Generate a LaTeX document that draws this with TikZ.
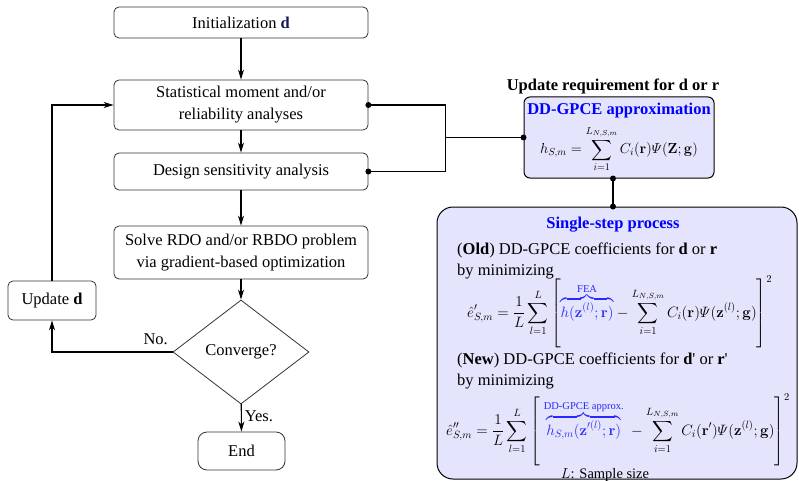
\RequirePackage{fix-cm}
\documentclass[tikz,border=0pt]{standalone}
\usepackage{amsmath}
\usepackage[no-math]{fontspec}
\setmainfont{Liberation Serif}
\usetikzlibrary{shapes.geometric,arrows.meta,calc}
\definecolor{boxfill}{RGB}{228,228,252}
\definecolor{navyd}{RGB}{20,20,80}
\definecolor{fblue}{RGB}{40,40,255}
\newcommand{\tallbr}{\vphantom{\rule[-32pt]{0pt}{71pt}}}
\begin{document}
\begin{tikzpicture}[x=1pt,y=-1pt,
  txt/.style={font=\fontsize{16.5}{22}\selectfont},
  box/.style={txt, draw=black!80, line width=0.8pt, rounded corners=5pt, minimum width=254pt, align=center, inner sep=0pt},
  conn/.style={line width=1.1pt, -{Stealth[length=10pt,width=6pt,inset=3pt]}},
  wire/.style={line width=1.1pt},
  mth/.style={font=\fontsize{14.5}{16}\selectfont, inner sep=0pt},
  bmth/.style={font=\fontsize{15}{17}\selectfont, inner sep=0pt, anchor=base west},
  panel/.style={draw=black, line width=1pt, fill=boxfill}
]
\useasboundingbox (0,0) rectangle (799,481);

% left flow
\node[box, minimum height=31pt] (init) at (241,22.5) {Initialization \textbf{\color{navyd}d}};
\node[box, minimum height=50pt] (stat) at (241,105) {Statistical moment and/or\\reliability analyses};
\node[box, minimum height=37pt] (sens) at (241,171.5) {Design sensitivity analysis};
\node[box, minimum height=53pt] (solve) at (241,252.5) {Solve RDO and/or RBDO problem\\via gradient-based optimization};
\node[txt, draw=black!80, line width=0.8pt, diamond, minimum width=136pt, minimum height=104pt, inner sep=0pt] (conv) at (241,352) {Converge?};
\node[box, minimum width=87pt, minimum height=38pt, rounded corners=9pt] (end) at (241.5,451) {End};
\node[box, minimum width=88pt, minimum height=39pt] (upd) at (52,300.5) {Update \textbf{d}};

\draw[conn] (init) -- (stat);
\draw[conn] (stat) -- (sens);
\draw[conn] (sens) -- (solve);
\draw[conn] (solve) -- (conv);
\draw[conn] (conv) -- node[txt, right, pos=0.45, inner sep=3pt]{Yes.} (end);
\draw[conn] (conv.west) -| node[txt, above, pos=0.07, inner sep=7pt]{No.} (upd.south);
\draw[conn] (upd.north) |- (stat.west);

% DD-GPCE box
\node[txt, font=\fontsize{16.5}{22}\selectfont\bfseries] (req) at (613,86) {Update requirement for \textbf{d} or \textbf{r}};
\node[panel, rounded corners=6pt, minimum width=190pt, minimum height=81pt, inner sep=0pt] (dd) at (619,137.5) {};
\node[txt, text=blue, font=\fontsize{16.5}{22}\selectfont\bfseries] (ddt) at (619,111) {DD-GPCE approximation};
\node[mth] (ddf) at (619,149) {$\displaystyle h_{S,m}=\sum_{i=1}^{L_{N,S,m}} C_i(\mathbf{r})\varPsi(\mathbf{Z};\mathbf{g})$};

\coordinate (jn) at ($(dd.west)+(-78,0)$);
\draw[wire] (stat.east) -| (jn) |- (sens.east);
\draw[wire] (dd.west) -- (jn);
\fill (stat.east) circle (3pt);
\fill (sens.east) circle (3pt);
\fill (dd.west) circle (3pt);

% single-step box
\node[panel, rounded corners=16pt, minimum width=360pt, minimum height=272pt, inner sep=0pt] (big) at (617,343) {};
\draw[wire] (dd.south -| 613,0) -- (big.north -| 613,0);
\fill (dd.south -| 613,0) circle (3pt);
\fill (big.north -| 613,0) circle (3pt);

\node[txt, text=blue, font=\fontsize{16.5}{22}\selectfont\bfseries] (sst) at (613,225) {Single-step process};
\node[txt, anchor=west, inner sep=0pt] (old1) at (457,250) {(\textbf{Old}) DD-GPCE coefficients for \textbf{d} or \textbf{r}};
\node[txt, anchor=west, inner sep=0pt] (old2) at (457,272) {by minimizing};
\node[bmth] (f1) at (467,317) {$\displaystyle \hat{e}'_{S,m}=\frac{1}{L}\sum_{l=1}^{L}\left[\tallbr{\color{fblue}\overbrace{h(\mathbf{z}^{(l)};\mathbf{r})}^{\text{FEA}}}-\sum_{i=1}^{L_{N,S,m}} C_i(\mathbf{r})\varPsi(\mathbf{z}^{(l)};\mathbf{g})\right]^2$};
\node[txt, anchor=west, inner sep=0pt] (new1) at (457,360) {(\textbf{New}) DD-GPCE coefficients for \textbf{d}\textquotesingle{} or \textbf{r}\textquotesingle};
\node[txt, anchor=west, inner sep=0pt] (new2) at (457,382) {by minimizing};
\node[bmth] (f2) at (446,435) {$\displaystyle \hat{e}''_{S,m}=\frac{1}{L}\sum_{l=1}^{L}\left[\tallbr\;{\color{fblue}\overbrace{h_{S,m}(\mathbf{z}'^{(l)};\mathbf{r})}^{\text{DD-GPCE approx.}}}\;-\sum_{i=1}^{L_{N,S,m}} C_i(\mathbf{r}')\varPsi(\mathbf{z}^{(l)};\mathbf{g})\right]^2$};
\node[mth, font=\fontsize{14.5}{16}\selectfont] (ss) at (605,475) {$L$: Sample size};
\end{tikzpicture}
\end{document}
